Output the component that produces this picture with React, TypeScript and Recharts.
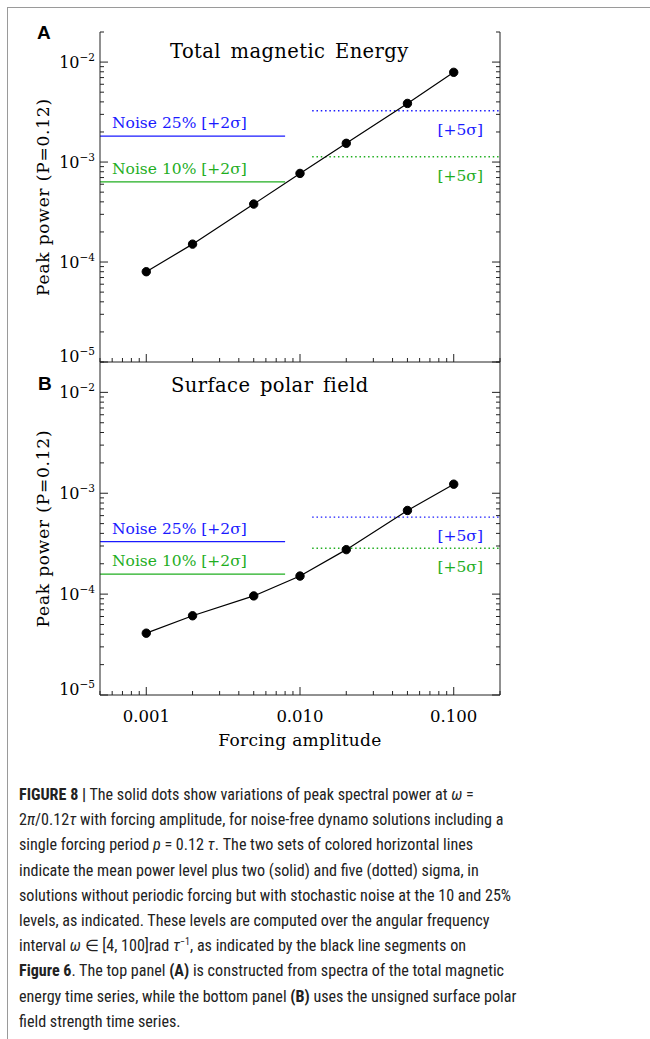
import React from 'react';
import { ComposedChart, Line, XAxis, YAxis, ReferenceLine } from 'recharts';

// forcing amplitudes (x) and peak power at P=0.12 (y)
const forcing = [0.001, 0.002, 0.005, 0.01, 0.02, 0.05, 0.1];
const peakEnergy = [8.0e-5, 1.51e-4, 3.8e-4, 7.7e-4, 1.54e-3, 3.86e-3, 7.9e-3];
const peakPolar = [4.1e-5, 6.1e-5, 9.6e-5, 1.51e-4, 2.76e-4, 6.75e-4, 1.23e-3];

// noise levels: [25%, 10%]
const noiseLevels = ['25%', '10%'];
const energyNoise2Sigma = [1.82e-3, 6.35e-4];
const energyNoise5Sigma = [3.26e-3, 1.13e-3];
const polarNoise2Sigma = [3.31e-4, 1.58e-4];
const polarNoise5Sigma = [5.8e-4, 2.85e-4];
const solidSpan = [0.0005, 0.008];
const dottedSpan = [0.012, 0.2];

const xDomain = [0.0005, 0.2];
const yDomain = [1e-5, 0.02];
const xTicks = [
  0.0005, 0.0006, 0.0007, 0.0008, 0.0009,
  0.001, 0.002, 0.003, 0.004, 0.005, 0.006, 0.007, 0.008, 0.009,
  0.01, 0.02, 0.03, 0.04, 0.05, 0.06, 0.07, 0.08, 0.09,
  0.1, 0.2,
];
const xMajor = [0.001, 0.01, 0.1];
const xTickLabels = ['0.001', '0.010', '0.100'];
const yTicks = [
  1e-5, 2e-5, 3e-5, 4e-5, 5e-5, 6e-5, 7e-5, 8e-5, 9e-5,
  1e-4, 2e-4, 3e-4, 4e-4, 5e-4, 6e-4, 7e-4, 8e-4, 9e-4,
  1e-3, 2e-3, 3e-3, 4e-3, 5e-3, 6e-3, 7e-3, 8e-3, 9e-3,
  1e-2, 2e-2,
];
const yMajor = [1e-5, 1e-4, 1e-3, 1e-2];

const colors = { line: '#000', blue: '#1a1aff', green: '#1fae1f', axis: '#222' };
const serif = '"DejaVu Serif", serif';
const noiseColors = [colors.blue, colors.green];

const isMajor = (v: number, list: number[]) => list.some((m) => Math.abs(v / m - 1) < 1e-6);

const makeTick = (side: string, labels: boolean) => (props: any) => {
  const { x, y, payload } = props;
  const v = payload.value;
  const major = isMajor(v, side === 'left' || side === 'right' ? yMajor : xMajor);
  const len = major ? 8 : 4;
  let line;
  if (side === 'left') line = <line x1={x} y1={y} x2={x + len} y2={y} stroke={colors.axis} />;
  else if (side === 'right') line = <line x1={x} y1={y} x2={x - len} y2={y} stroke={colors.axis} />;
  else if (side === 'top') line = <line x1={x} y1={y} x2={x} y2={y + len} stroke={colors.axis} />;
  else line = <line x1={x} y1={y} x2={x} y2={y - len} stroke={colors.axis} />;
  let label = null;
  if (labels && major && side === 'left') {
    const exp = Math.round(Math.log10(v));
    const shift = v === yDomain[0] ? -6 : 0;
    label = (
      <text x={x - 5} y={y + 6 + shift} textAnchor="end" fontFamily={serif} fontSize={16} fill="#000">
        10<tspan dy={-7} fontSize={10.5}>{'\u2212' + Math.abs(exp)}</tspan>
      </text>
    );
  }
  if (labels && major && side === 'bottom') {
    const i = xMajor.findIndex((m) => Math.abs(v / m - 1) < 1e-6);
    label = (
      <text x={x} y={y + 27} textAnchor="middle" fontFamily={serif} fontSize={16.5} fill="#000">
        {xTickLabels[i]}
      </text>
    );
  }
  return (
    <g>
      {line}
      {label}
    </g>
  );
};

const noiseLabel = (text: string, color: string) => (p: any) => {
  const vb = p.viewBox;
  return (
    <text x={vb.x + 12} y={vb.y - 8} fontFamily={serif} fontSize={15.5} fill={color}>
      {text}
    </text>
  );
};

const sigmaLabel = (color: string) => (p: any) => {
  const vb = p.viewBox;
  return (
    <text x={vb.x + vb.width - 17} y={vb.y + 24} textAnchor="end" fontFamily={serif} fontSize={15.5} fill={color}>
      [+5σ]
    </text>
  );
};

type PanelProps = {
  values: number[];
  noise2: number[];
  noise5: number[];
  height: number;
  top: number;
  bottomAxis: number;
  xLabels: boolean;
};

const Panel = ({ values, noise2, noise5, height, top, bottomAxis, xLabels }: PanelProps) => {
  const data = forcing.map((f, i) => ({ f, p: values[i] }));
  return (
    <ComposedChart width={650} height={height} data={data} margin={{ top, right: 0, bottom: 0, left: 0 }}>
      <XAxis
        xAxisId="b"
        dataKey="f"
        type="number"
        scale="log"
        domain={xDomain}
        allowDataOverflow
        ticks={xTicks}
        interval={0}
        height={bottomAxis}
        tickSize={0}
        tickMargin={0}
        stroke={colors.axis}
        tick={makeTick('bottom', xLabels)}
        label={
          xLabels
            ? (p: any) => (
                <text
                  x={p.viewBox.x + p.viewBox.width / 2}
                  y={p.viewBox.y + 51}
                  textAnchor="middle"
                  fontFamily={serif}
                  fontSize={17}
                  letterSpacing={0.3}
                  fill="#000"
                >
                  Forcing amplitude
                </text>
              )
            : undefined
        }
      />
      <XAxis
        xAxisId="t"
        orientation="top"
        dataKey="f"
        type="number"
        scale="log"
        domain={xDomain}
        allowDataOverflow
        ticks={xTicks}
        interval={0}
        height={0}
        tickSize={0}
        tickMargin={0}
        stroke={colors.axis}
        tick={makeTick('top', false)}
      />
      <YAxis
        yAxisId="l"
        type="number"
        scale="log"
        domain={yDomain}
        allowDataOverflow
        ticks={yTicks}
        interval={0}
        width={100}
        tickSize={0}
        tickMargin={0}
        stroke={colors.axis}
        tick={makeTick('left', true)}
        label={(p: any) => {
          const cx = p.viewBox.x + 43;
          const cy = p.viewBox.y + p.viewBox.height / 2;
          return (
            <text
              x={cx}
              y={cy}
              transform={`rotate(-90 ${cx} ${cy})`}
              textAnchor="middle"
              dominantBaseline="central"
              fontFamily={serif}
              fontSize={17}
              letterSpacing={0.8}
              fill="#000"
            >
              Peak power (P=0.12)
            </text>
          );
        }}
      />
      <YAxis
        yAxisId="r"
        orientation="right"
        type="number"
        scale="log"
        domain={yDomain}
        allowDataOverflow
        ticks={yTicks}
        interval={0}
        width={150}
        tickSize={0}
        tickMargin={0}
        stroke={colors.axis}
        tick={makeTick('right', false)}
      />
      {noise2.map((v, i) => (
        <ReferenceLine
          key={'s' + i}
          xAxisId="b"
          yAxisId="l"
          segment={[{ x: solidSpan[0], y: v }, { x: solidSpan[1], y: v }]}
          stroke={noiseColors[i]}
          strokeWidth={1.3}
          label={noiseLabel(`Noise ${noiseLevels[i]} [+2σ]`, noiseColors[i])}
        />
      ))}
      {noise5.map((v, i) => (
        <ReferenceLine
          key={'d' + i}
          xAxisId="b"
          yAxisId="l"
          segment={[{ x: dottedSpan[0], y: v }, { x: dottedSpan[1], y: v }]}
          stroke={noiseColors[i]}
          strokeWidth={1.3}
          strokeDasharray="1.5 2.8"
          label={sigmaLabel(noiseColors[i])}
        />
      ))}
      <Line
        xAxisId="b"
        yAxisId="l"
        dataKey="p"
        type="linear"
        stroke={colors.line}
        strokeWidth={1.2}
        dot={{ r: 4.2, fill: '#000', stroke: '#000', strokeWidth: 1 }}
        isAnimationActive={false}
      />
    </ComposedChart>
  );
};

const captionStyle: React.CSSProperties = {
  position: 'absolute',
  left: 19,
  top: 782,
  fontFamily: '"Liberation Sans Narrow", "Roboto Condensed", "Liberation Sans", sans-serif',
  fontSize: 16.1,
  lineHeight: '25.2px',
  color: '#222',
  whiteSpace: 'nowrap',
};

const Caption = () => (
  <div style={captionStyle}>
    <div>
      <b>FIGURE 8 |</b> The solid dots show variations of peak spectral power at <i>ω</i> =
    </div>
    <div>
      2<i>π</i>/0.12<i>τ</i> with forcing amplitude, for noise-free dynamo solutions including a
    </div>
    <div>
      single forcing period <i>p</i> = 0.12 <i>τ</i>. The two sets of colored horizontal lines
    </div>
    <div>indicate the mean power level plus two (solid) and five (dotted) sigma, in</div>
    <div>solutions without periodic forcing but with stochastic noise at the 10 and 25%</div>
    <div>levels, as indicated. These levels are computed over the angular frequency</div>
    <div>
      interval <i>ω</i> ∈ [4, 100]rad <i>τ</i>
      <sup style={{ fontSize: 10, lineHeight: 0 }}>−1</sup>, as indicated by the black line segments on
    </div>
    <div>
      <b>Figure 6</b>. The top panel <b>(A)</b> is constructed from spectra of the total magnetic
    </div>
    <div>
      energy time series, while the bottom panel <b>(B)</b> uses the unsigned surface polar
    </div>
    <div>field strength time series.</div>
  </div>
);

const titleStyle: React.CSSProperties = {
  position: 'absolute',
  fontFamily: serif,
  fontSize: 19.5,
  letterSpacing: 0.4,
  wordSpacing: 3,
  color: '#000',
  whiteSpace: 'nowrap',
};

const letterStyle: React.CSSProperties = {
  position: 'absolute',
  fontFamily: '"Liberation Sans", Arial, sans-serif',
  fontWeight: 'bold',
  fontSize: 19,
  color: '#000',
};

export default function App() {
  return (
    <div style={{ position: 'absolute', left: 0, top: 0, width: 650, height: 1039, background: '#fff', overflow: 'hidden' }}>
      <div
        style={{
          position: 'absolute',
          left: 7,
          top: 7,
          width: 650,
          height: 1040,
          borderLeft: '1px solid #9a9a9a',
          borderTop: '1px solid #9a9a9a',
        }}
      />
      <div style={{ position: 'absolute', left: 0, top: 0 }}>
        <Panel
          values={peakEnergy}
          noise2={energyNoise2Sigma}
          noise5={energyNoise5Sigma}
          height={370}
          top={32}
          bottomAxis={8}
          xLabels={false}
        />
      </div>
      <div style={{ position: 'absolute', left: 0, top: 340 }}>
        <Panel
          values={peakPolar}
          noise2={polarNoise2Sigma}
          noise5={polarNoise5Sigma}
          height={420}
          top={22}
          bottomAxis={65}
          xLabels={true}
        />
      </div>
      <div style={{ ...titleStyle, left: 170, top: 40 }}>Total magnetic Energy</div>
      <div style={{ ...titleStyle, left: 171, top: 374 }}>Surface polar field</div>
      <div style={{ ...letterStyle, left: 37, top: 22 }}>A</div>
      <div style={{ ...letterStyle, left: 38, top: 373 }}>B</div>
      <Caption />
    </div>
  );
}
